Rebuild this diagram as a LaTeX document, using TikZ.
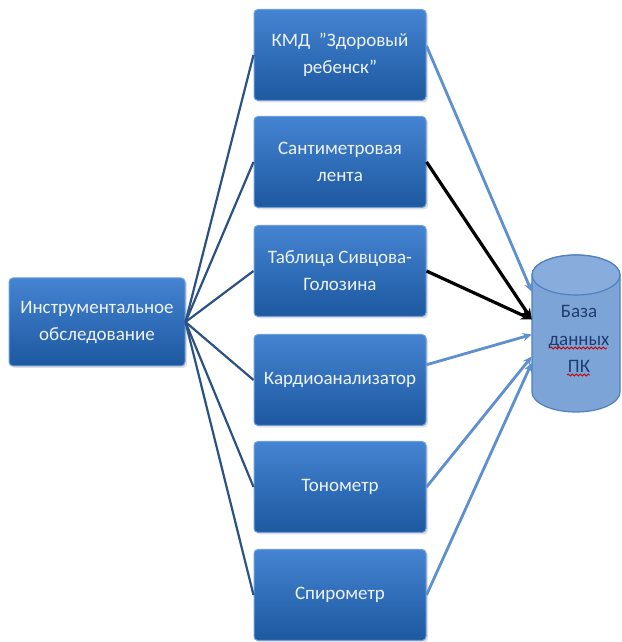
\documentclass[tikz,border=0pt]{standalone}
\usepackage{fontspec}
\setmainfont{Carlito}
\usetikzlibrary{arrows.meta,decorations.pathmorphing,shadows}
\definecolor{boxtop}{HTML}{4584D2}
\definecolor{boxbot}{HTML}{1D58A0}
\definecolor{boxedge}{HTML}{6E9FDA}
\definecolor{boxtext}{HTML}{EEF3FA}
\definecolor{leftline}{HTML}{2C5283}
\definecolor{rightline}{HTML}{5E8FCF}
\definecolor{cylfill}{HTML}{7DA4D7}
\definecolor{cyltop}{HTML}{88ADDC}
\definecolor{cyledge}{HTML}{5080C0}
\definecolor{cyltext}{HTML}{1E3D6E}
\begin{document}
\begin{tikzpicture}[x=1pt,y=1pt,
  box/.style={rectangle, rounded corners=4pt, minimum width=172pt, minimum height=91pt,
    top color=boxtop, bottom color=boxbot, draw=boxedge, line width=1pt,
    drop shadow={opacity=0.25,shadow xshift=2pt,shadow yshift=-2pt},
    text=boxtext, align=center, font=\fontsize{19}{27}\selectfont, inner sep=1pt},
  lline/.style={draw=leftline, line width=2.2pt},
  rline/.style={draw=rightline, line width=2.8pt, -{Stealth[length=9pt,width=8pt]}},
  bline/.style={draw=black, line width=3.2pt, -{Stealth[length=11pt,width=10pt]}}]
\fill[white] (0,0) rectangle (621,642);
\useasboundingbox (0,0) rectangle (621,642);

% cylinder
\fill[cylfill,draw=cyledge,line width=1.2pt] (532,367) -- (532,250) arc[start angle=180,end angle=360,x radius=44,y radius=20] -- (620,367) arc[start angle=0,end angle=180,x radius=44,y radius=20] -- cycle;
\filldraw[fill=cyltop,draw=cyledge,line width=1.2pt] (576,367) ellipse[x radius=44,y radius=20];
\node[minimum width=88pt, minimum height=117pt, inner sep=0pt] (db) at (576,309) {};
\node[text=cyltext, align=center, font=\fontsize{19}{27.5}\selectfont] (dbt) at (579,303) {База\\данных\\ПК};
\draw[red!80!black, line width=0.8pt, decorate, decoration={snake,amplitude=1pt,segment length=4pt}] (550,294) -- (607,294);
\draw[red!80!black, line width=0.8pt, decorate, decoration={snake,amplitude=1pt,segment length=4pt}] (567,267) -- (590,267);

% nodes
\node[box, minimum width=176pt, minimum height=88pt] (L) at (97,320) {Инструментальное\\обследование};
\node[box] (b1) at (340,587) {КМД \ {\char"22}Здоровый\\ребенск{\char"22}};
\node[box] (b2) at (340,480) {Сантиметровая\\лента};
\node[box] (b3) at (340,371) {Таблица Сивцова-\\Голозина};
\node[box] (b4) at (340,262) {Кардиоанализатор};
\node[box] (b5) at (340,155) {Тонометр};
\node[box] (b6) at (340,47) {Спирометр};

% left connectors
\foreach \b in {b1,b2,b3,b4,b5,b6}
  \draw[lline] (L.east) -- (\b.west);

% right connectors
\draw[rline] (b1.6) -- (db.137);
\draw[bline] (b2.east) -- (db.163);
\draw[bline] (b3.east) -- (db.163);
\draw[rline] (b4.10) -- (db.182);
\draw[rline] (b5.east) -- (db.208);
\draw[rline] (b6.east) -- (db.214);
\end{tikzpicture}
\end{document}
